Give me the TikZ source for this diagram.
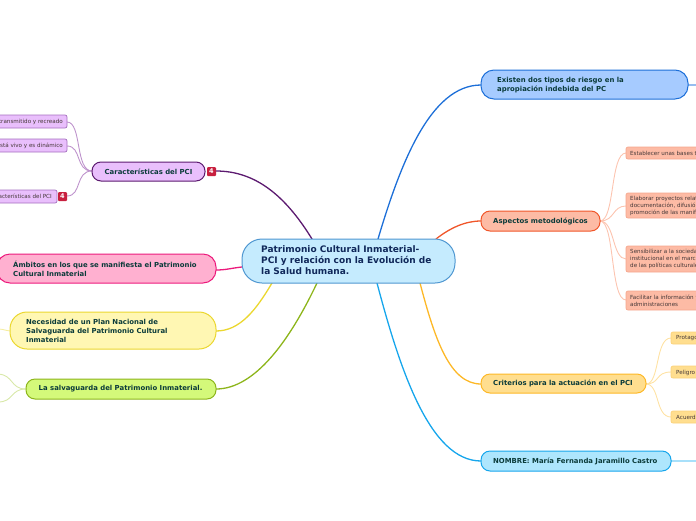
\documentclass[tikz,border=0pt]{standalone}
\usepackage{fontspec}
\setmainfont{DejaVu Sans}
\definecolor{txt}{HTML}{0B3B3A}
\definecolor{ctxt}{HTML}{10285A}
\definecolor{leaf}{HTML}{453838}
\tikzset{x=1pt,y=-1pt,
 main/.style={inner sep=0pt,font=\bfseries\fontsize{6.9}{9.1}\selectfont,text=txt},
 small/.style={inner sep=0pt,font=\fontsize{5.6}{6.9}\selectfont,text=leaf},
 link/.style={draw=#1,line width=1.3pt,line cap=round},
 sub/.style={draw=#1,line width=.9pt}}
\begin{document}
\begin{tikzpicture}
\useasboundingbox (0,0) rectangle (696,520);
\clip (0,0) rectangle (696,520);
\definecolor{cfill}{HTML}{C5EBFE}\definecolor{cdraw}{HTML}{4F97D1}
\definecolor{pfill}{HTML}{E9BFFC}\definecolor{pdraw}{HTML}{5C1A70}\definecolor{plink}{HTML}{BE93CC}\definecolor{pleaf}{HTML}{A56FC0}
\definecolor{rfill}{HTML}{FFB0D0}\definecolor{rdraw}{HTML}{EC1A7C}
\definecolor{yfill}{HTML}{FFF7B3}\definecolor{ydraw}{HTML}{EBD72F}\definecolor{ylink}{HTML}{F5EDA0}
\definecolor{gfill}{HTML}{D4F97A}\definecolor{gdraw}{HTML}{8DB51B}\definecolor{glink}{HTML}{D8E8A8}
\definecolor{bfill}{HTML}{A6CBFF}\definecolor{bdraw}{HTML}{1D6FD8}\definecolor{blink}{HTML}{96BDF0}
\definecolor{ofill}{HTML}{FDBBA5}\definecolor{odraw}{HTML}{F0562A}\definecolor{olink}{HTML}{FCC4B0}\definecolor{oleaf}{HTML}{F5A78E}
\definecolor{afill}{HTML}{FFDE8F}\definecolor{adraw}{HTML}{FDB827}\definecolor{alink}{HTML}{FEE2A4}\definecolor{aleaf}{HTML}{FBD27A}
\definecolor{sfill}{HTML}{AEE6FD}\definecolor{sdraw}{HTML}{16A6EC}\definecolor{slink}{HTML}{A8E0FA}
\definecolor{badge}{HTML}{C8203F}
% coordinates of connector ends
\coordinate (c1) at (312,239); \coordinate (c2) at (242,267); \coordinate (c3) at (272,283);
\coordinate (c4) at (317,283); \coordinate (c5) at (378,239); \coordinate (c6) at (436,239);
\coordinate (c7) at (420,283); \coordinate (c8) at (377,283);
\draw[link=pdraw] (c1) .. controls (285,195) and (255,171) .. (216,171);
\draw[link=rdraw] (c2) .. controls (232,268) and (226,270) .. (216,270);
\draw[link=ydraw] (c3) .. controls (256,310) and (240,331) .. (216,331);
\draw[link=gdraw] (c4) .. controls (290,340) and (255,389) .. (216,389);
\draw[link=bdraw] (c5) .. controls (400,165) and (430,85) .. (481,85);
\draw[link=odraw] (c6) .. controls (450,228) and (465,221) .. (481,221);
\draw[link=adraw] (c7) .. controls (435,340) and (450,384) .. (481,384);
\draw[link=sdraw] (c8) .. controls (400,370) and (430,461) .. (481,461);
% right stubs
\draw[link=blink] (688,85) -- (700,85);
\draw[link=slink] (671,461) -- (700,461);
% sub-connectors
\draw[sub=plink] (92,171) .. controls (75,171) and (82,122) .. (67,122);
\draw[sub=plink] (92,171) .. controls (75,171) and (82,146) .. (67,146);
\draw[sub=plink] (92,171) .. controls (75,171) and (82,196) .. (67,196);
\draw[sub=olink] (600,221) .. controls (615,221) and (610,153) .. (626,153);
\draw[sub=olink] (600,221) .. controls (615,221) and (612,206) .. (626,206);
\draw[sub=olink] (600,221) .. controls (615,221) and (612,259) .. (626,259);
\draw[sub=olink] (600,221) .. controls (615,221) and (610,300) .. (626,300);
\draw[sub=alink] (646,384) .. controls (660,384) and (655,338) .. (671,338);
\draw[sub=alink] (646,384) .. controls (660,384) and (655,372) .. (671,372);
\draw[sub=alink] (646,384) .. controls (660,384) and (655,417) .. (671,417);
\draw[sub=glink] (26,389) .. controls (10,389) and (14,375) .. (-2,374);
\draw[sub=glink] (26,389) .. controls (10,389) and (14,402) .. (-2,402);
\draw[sub=ylink] (10,331) .. controls (6,331) and (4,329) .. (-2,329);
% central
\path[fill=cfill,draw=cdraw,line width=1pt,rounded corners=20pt] (242,239) rectangle (455,283);
\node (central) [anchor=north west,inner sep=0pt,align=left,text=ctxt,font=\bfseries\fontsize{9}{11}\selectfont] at (261,245.5) {Patrimonio Cultural Inmaterial-\\PCI y relación con la Evolución de\\la Salud humana.};
% main topics
\path[fill=pfill,draw=pdraw,line width=1pt,rounded corners=9pt] (92,162) rectangle (205,181);
\node (car) [main] at (148.5,171.5) {Características del PCI};
\path[fill=rfill,draw=rdraw,line width=1pt,rounded corners=13pt] (-3,254) rectangle (216,283);
\node (amb) [main,anchor=west,align=left] at (13,268.5) {Ámbitos en los que se manifiesta el Patrimonio\\Cultural Inmaterial};
\path[fill=yfill,draw=ydraw,line width=1pt,rounded corners=17pt] (10,312) rectangle (216,349);
\node (nec) [main,anchor=west,align=left] at (26,331) {Necesidad de un Plan Nacional de\\Salvaguarda del Patrimonio Cultural\\Inmaterial};
\path[fill=gfill,draw=gdraw,line width=1pt,rounded corners=9pt] (26,379) rectangle (216,399);
\node (sal) [main,anchor=west] at (38.5,389) {La salvaguarda del Patrimonio Inmaterial.};
\path[fill=bfill,draw=bdraw,line width=1pt,rounded corners=13pt] (481,70) rectangle (688,99);
\node (exi) [main,anchor=west,align=left] at (497,85) {Existen dos tipos de riesgo en la\\apropiación indebida del PC};
\path[fill=ofill,draw=odraw,line width=1pt,rounded corners=9pt] (481,211) rectangle (600,231);
\node (asp) [main,anchor=west] at (493,221) {Aspectos metodológicos};
\path[fill=afill,draw=adraw,line width=1pt,rounded corners=9pt] (481,374) rectangle (646,393);
\node (cri) [main,anchor=west] at (493,383.5) {Criterios para la actuación en el PCI};
\path[fill=sfill,draw=sdraw,line width=1pt,rounded corners=9pt] (481,451) rectangle (671,471);
\node (nom) [main,anchor=west] at (493,461.5) {NOMBRE: María Fernanda Jaramillo Castro};
% left leaves
\path[fill=pfill,draw=pleaf,line width=.7pt,rounded corners=2pt] (-5,115) rectangle (67,128);
\node (l1) [small,anchor=east] at (63,122) {transmitido y recreado};
\path[fill=pfill,draw=pleaf,line width=.7pt,rounded corners=2pt] (-5,139) rectangle (67,152);
\node (l2) [small,anchor=east] at (63,146) {está vivo y es dinámico};
\path[fill=pfill,draw=pleaf,line width=.7pt,rounded corners=2pt] (-5,190) rectangle (57,203);
\node (l3) [small,anchor=east] at (52,196.5) {Características del PCI};
% right leaves
\foreach \a/\b in {147/159,193/218,246/272,291/310}
  \path[fill=ofill,draw=oleaf,line width=.7pt,rounded corners=2pt] (626,\a) rectangle (705,\b);
\node (r1) [small,anchor=west] at (630,153) {Establecer unas bases t};
\node (r2) [small,anchor=west,align=left] at (630,206) {Elaborar proyectos relat\\documentación, difusión\\promoción de las manife};
\node (r3) [small,anchor=west,align=left] at (630,259) {Sensibilizar a la socieda\\institucional en el marco\\de las políticas culturale};
\node (r4) [small,anchor=west,align=left] at (630,300.5) {Facilitar la información y\\administraciones};
\foreach \a/\b in {332/344,366/378,411/423}
  \path[fill=afill,draw=aleaf,line width=.7pt,rounded corners=2pt] (671,\a) rectangle (705,\b);
\node (a1) [small,anchor=west] at (676,338.5) {Protago};
\node (a2) [small,anchor=west] at (676,372.5) {Peligro};
\node (a3) [small,anchor=west] at (676,417.5) {Acuerdo};
% badges
\path[fill=badge,rounded corners=1pt] (207,167) rectangle (216,176);
\node (b1) [text=white,font=\bfseries\fontsize{6.5}{7}\selectfont] at (211.5,171.5) {4};
\path[fill=badge,rounded corners=1pt] (58,192) rectangle (67,201);
\node (b2) [text=white,font=\bfseries\fontsize{6.5}{7}\selectfont] at (62.5,196.5) {4};
\end{tikzpicture}
\end{document}
